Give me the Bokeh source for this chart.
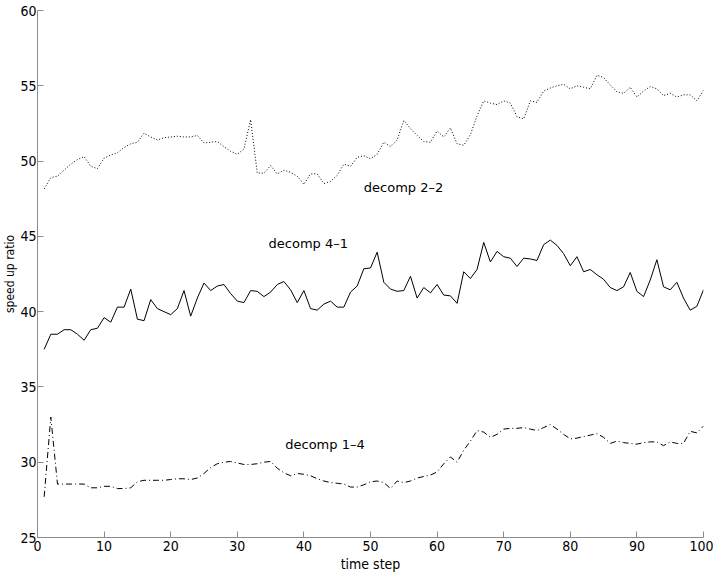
import math
from bokeh.plotting import figure
from bokeh.models import Range1d, FixedTicker
from bokeh.core.properties import value
from bokeh.embed import file_html
from bokeh.resources import INLINE

time_step = list(range(1, 101))

decomp_4_1 = [
    37.5, 38.5, 38.5, 38.8, 38.8, 38.5, 38.1, 38.8, 38.9, 39.6,
    39.3, 40.3, 40.3, 41.5, 39.5, 39.4, 40.8, 40.2, 40.0, 39.8,
    40.2, 41.4, 39.7, 40.9, 41.9, 41.4, 41.7, 41.8, 41.2, 40.7,
    40.6, 41.4, 41.35, 41.0, 41.3, 41.8, 42.0, 41.45, 40.6, 41.4,
    40.2, 40.1, 40.5, 40.7, 40.3, 40.3, 41.3, 41.7, 42.85, 42.9,
    43.95, 41.95, 41.5, 41.35, 41.4, 42.35, 40.9, 41.6, 41.25, 41.8,
    41.1, 41.05, 40.55, 42.65, 42.2, 42.8, 44.6, 43.3, 44.0, 43.65,
    43.55, 43.0, 43.55, 43.5, 43.4, 44.45, 44.75, 44.4, 43.85, 43.05,
    43.65, 42.65, 42.8, 42.45, 42.15, 41.6, 41.4, 41.65, 42.6, 41.35,
    41.0, 42.1, 43.45, 41.65, 41.45, 41.95, 40.9, 40.1, 40.35, 41.45,
]

decomp_2_2 = [
    48.15, 48.9, 49.0, 49.4, 49.8, 50.1, 50.3, 49.65, 49.5, 50.2,
    50.4, 50.55, 50.9, 51.15, 51.25, 51.85, 51.6, 51.4, 51.55, 51.6,
    51.65, 51.6, 51.6, 51.7, 51.2, 51.25, 51.3, 50.95, 50.65, 50.45,
    50.8, 52.75, 49.2, 49.2, 49.7, 49.15, 49.4, 49.25, 49.0, 48.45,
    49.15, 49.15, 48.5, 48.65, 49.05, 49.8, 49.65, 50.25, 50.35, 50.15,
    50.45, 51.25, 50.95, 51.4, 52.7, 52.15, 51.7, 51.3, 51.25, 52.0,
    51.6, 52.2, 51.15, 51.05, 51.75, 53.0, 54.0, 53.85, 53.75, 54.0,
    53.85, 52.95, 52.8, 54.0, 53.9, 54.65, 54.85, 55.0, 55.1, 54.8,
    55.0, 54.9, 54.8, 55.7, 55.55, 55.05, 54.6, 54.5, 54.9, 54.25,
    54.65, 54.95, 54.8, 54.35, 54.5, 54.25, 54.4, 54.4, 54.0, 54.7,
]

decomp_1_4 = [
    27.7, 33.0, 28.55, 28.55, 28.55, 28.55, 28.55, 28.3, 28.3, 28.4,
    28.4, 28.25, 28.25, 28.3, 28.7, 28.8, 28.8, 28.8, 28.8, 28.85,
    28.9, 28.9, 28.85, 28.95, 29.25, 29.65, 29.9, 30.0, 30.05, 29.95,
    29.85, 29.85, 29.9, 30.0, 30.05, 29.6, 29.3, 29.1, 29.25, 29.2,
    29.1, 28.9, 28.75, 28.65, 28.6, 28.55, 28.35, 28.35, 28.5, 28.7,
    28.75, 28.65, 28.25, 28.75, 28.65, 28.75, 28.95, 29.05, 29.15, 29.35,
    29.9, 30.35, 30.0, 30.8, 31.4, 32.1, 32.0, 31.65, 31.85, 32.2,
    32.25, 32.25, 32.3, 32.2, 32.1, 32.3, 32.5, 32.2, 31.85, 31.55,
    31.6, 31.7, 31.8, 31.9, 31.65, 31.25, 31.4, 31.3, 31.25, 31.2,
    31.3, 31.35, 31.35, 31.1, 31.35, 31.25, 31.25, 32.05, 31.95, 32.4,
]

series_names = ["decomp 2\u20132", "decomp 4\u20131", "decomp 1\u20134"]
x_ticks = [0, 10, 20, 30, 40, 50, 60, 70, 80, 90, 100]
y_ticks = [25, 30, 35, 40, 45, 50, 55, 60]

AX_FONT = "'Liberation Sans Narrow', 'DejaVu Sans Condensed', 'DejaVu Sans', sans-serif"

p = figure(width=713, height=586, output_backend="svg", toolbar_location=None,
           x_range=Range1d(0, 100), y_range=Range1d(25, 60),
           min_border_left=35, min_border_right=10, min_border_top=10,
           min_border_bottom=49)
p.outline_line_color = None
p.xgrid.grid_line_color = None
p.ygrid.grid_line_color = None
p.background_fill_color = "white"
p.border_fill_color = "white"

for ax, ticks in ((p.xaxis[0], x_ticks), (p.yaxis[0], y_ticks)):
    ax.ticker = FixedTicker(ticks=ticks)
    ax.minor_tick_line_color = None
    ax.major_tick_in = 6
    ax.major_tick_out = 0
    ax.axis_line_color = "#8c8c8c"
    ax.major_tick_line_color = "#8c8c8c"
    ax.major_label_text_font = AX_FONT
    ax.major_label_text_font_size = "14px"
    ax.major_label_text_color = "black"
    ax.axis_label_text_font = AX_FONT
    ax.axis_label_text_font_style = "normal"
    ax.axis_label_text_color = "black"

p.xaxis.major_label_standoff = 3
p.xaxis.axis_label = "time step"
p.xaxis.axis_label_text_font_size = "14px"
p.xaxis.axis_label_standoff = 2

p.yaxis.major_label_standoff = 1
p.yaxis.axis_label = "speed up ratio"
p.yaxis.axis_label_text_font_size = "12px"
p.yaxis.axis_label_standoff = 0

p.line(time_step, decomp_2_2, line_color="black", line_width=1, line_dash="1 2")
p.line(time_step, decomp_4_1, line_color="black", line_width=1)
p.line(time_step, decomp_1_4, line_color="black", line_width=1, line_dash="6 3 1 3")

label_x = [49.0, 34.7, 37.2]
label_y = [48.25, 44.5, 31.15]
p.text(x=label_x, y=label_y, text=series_names, text_align="left",
       text_baseline="middle", text_font=value("DejaVu Sans"),
       text_font_size="13px", text_color="black")

open("out.html", "w").write(file_html(p, INLINE))
